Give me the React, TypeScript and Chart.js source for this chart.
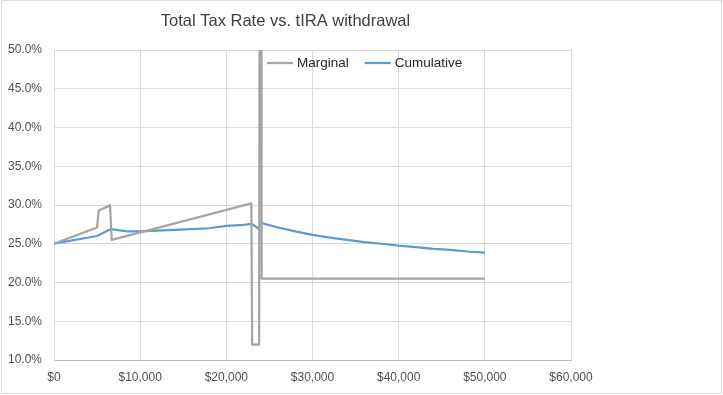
import React, { useEffect, useRef } from "react";
import { Chart, registerables } from "chart.js";

Chart.register(...registerables);

const TITLE = "Total Tax Rate vs. tIRA withdrawal";

const marginalLabel = "Marginal";
const marginalX = [0, 5000, 5200, 6500, 6700, 22900, 23000, 23800, 24000, 24100, 50000];
const marginalY = [25.0, 27.1, 29.3, 29.95, 25.5, 30.2, 12.0, 12.0, 150, 20.5, 20.5];

const cumulativeLabel = "Cumulative";
const cumulativeX = [0, 5000, 6600, 8500, 10000, 12000, 14000, 16000, 18000, 20000, 22000, 22900, 23100, 23800, 24000, 26000, 28000, 30000, 32000, 34000, 36000, 38000, 40000, 42000, 44000, 46000, 48000, 50000];
const cumulativeY = [25.0, 26.0, 26.9, 26.6, 26.6, 26.7, 26.8, 26.9, 27.0, 27.3, 27.45, 27.55, 27.45, 26.9, 27.7, 27.1, 26.6, 26.15, 25.8, 25.5, 25.2, 25.0, 24.75, 24.55, 24.35, 24.2, 24.0, 23.85];

const xTicks = [0, 10000, 20000, 30000, 40000, 50000, 60000];
const yTicks = [10, 15, 20, 25, 30, 35, 40, 45, 50];

const GRAY = "#A5A5A5";
const BLUE = "#5B9BD5";
const FONT = "'Liberation Sans', Arial, sans-serif";

const frame = {
  id: "frame",
  beforeDraw(chart: any) {
    const { ctx, width, height } = chart;
    ctx.save();
    ctx.fillStyle = "#ffffff";
    ctx.fillRect(0, 0, width, height);
    ctx.strokeStyle = "#D9D9D9";
    ctx.lineWidth = 1;
    ctx.strokeRect(1.5, 0.5, width - 3, height - 2);
    ctx.restore();
  },
};

const insideLegend = {
  id: "insideLegend",
  afterDraw(chart: any) {
    const { ctx, chartArea } = chart;
    const y = chartArea.top + 13;
    let x = chartArea.left + 213;
    ctx.save();
    ctx.font = `13.5px ${FONT}`;
    ctx.textBaseline = "middle";
    ctx.lineWidth = 2.25;
    chart.data.datasets.forEach((ds: any) => {
      ctx.strokeStyle = ds.borderColor;
      ctx.beginPath();
      ctx.moveTo(x, y);
      ctx.lineTo(x + 26, y);
      ctx.stroke();
      ctx.fillStyle = "#262626";
      ctx.fillText(ds.label, x + 30, y);
      x += 30 + ctx.measureText(ds.label).width + 16;
    });
    ctx.restore();
  },
};

export default function App() {
  const ref = useRef<HTMLCanvasElement | null>(null);
  useEffect(() => {
    if (!ref.current) return;
    const chart = new Chart(ref.current, {
      type: "line",
      data: {
        datasets: [
          {
            label: marginalLabel,
            data: marginalX.map((x, i) => ({ x, y: marginalY[i] })),
            borderColor: GRAY,
            backgroundColor: GRAY,
            borderWidth: 2.25,
            pointRadius: 0,
            tension: 0,
            borderJoinStyle: "round",
            clip: 0,
          },
          {
            label: cumulativeLabel,
            data: cumulativeX.map((x, i) => ({ x, y: cumulativeY[i] })),
            borderColor: BLUE,
            backgroundColor: BLUE,
            borderWidth: 2.25,
            pointRadius: 0,
            tension: 0,
            borderJoinStyle: "round",
            clip: 0,
          },
        ],
      },
      plugins: [frame, insideLegend],
      options: {
        animation: false,
        responsive: true,
        maintainAspectRatio: false,
        layout: { padding: { left: 0, right: 152, top: 0, bottom: 0 } },
        plugins: {
          legend: { display: false },
          tooltip: { enabled: false },
          title: {
            display: true,
            text: TITLE,
            color: "#404040",
            font: { family: FONT, size: 16.5, weight: "normal" },
            padding: { top: 12, bottom: 18.2 },
          },
        },
        scales: {
          x: {
            type: "linear",
            min: 0,
            max: 60000,
            afterFit: (s: any) => { s.height = 35; },
            afterBuildTicks: (s: any) => { s.ticks = xTicks.map((v) => ({ value: v })); },
            ticks: {
              color: "#505050",
              font: { family: FONT, size: 12 },
              padding: 10,
              maxRotation: 0,
              callback: (v: any) => "$" + Number(v).toLocaleString("en-US"),
            },
            grid: { color: "#D9D9D9", drawTicks: false, lineWidth: 1 },
            border: { color: "#BFBFBF", width: 1 },
          },
          y: {
            type: "linear",
            min: 10,
            max: 50,
            afterFit: (s: any) => { s.width = 54; },
            afterBuildTicks: (s: any) => { s.ticks = yTicks.map((v) => ({ value: v })); },
            ticks: {
              color: "#505050",
              font: { family: FONT, size: 12 },
              padding: 12,
              callback: (v: any) => Number(v).toFixed(1) + "%",
            },
            grid: { color: "#D9D9D9", drawTicks: false, lineWidth: 1 },
            border: { color: "#D9D9D9", width: 1 },
          },
        },
      },
    });
    return () => chart.destroy();
  }, []);
  return (
    <div style={{ position: "absolute", left: 0, top: 0, width: 723, height: 395 }}>
      <canvas ref={ref} />
    </div>
  );
}
